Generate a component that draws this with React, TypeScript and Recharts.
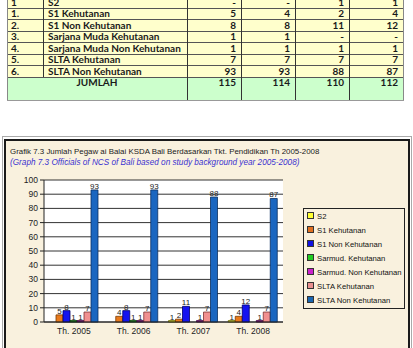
import React from 'react';
import { BarChart, Bar, XAxis, YAxis, CartesianGrid, LabelList } from 'recharts';

// data dari tabel pegawai Balai KSDA Bali
const years = ['Th. 2005', 'Th. 2006', 'Th. 2007', 'Th. 2008'];
const s2 = [0, 0, 1, 1];
const s1Kehutanan = [5, 4, 2, 4];
const s1NonKehutanan = [8, 8, 11, 12];
const sarmudKehutanan = [1, 1, 0, 0];
const sarmudNonKehutanan = [1, 1, 1, 1];
const sltaKehutanan = [7, 7, 7, 7];
const sltaNonKehutanan = [93, 93, 88, 87];
const yTicks = [0, 10, 20, 30, 40, 50, 60, 70, 80, 90, 100];

const tableNo = ['1', '1.', '2.', '3.', '4.', '5.', '6.'];
const tableNames = [
  'S2',
  'S1 Kehutanan',
  'S1 Non Kehutanan',
  'Sarjana Muda Kehutanan',
  'Sarjana Muda Non Kehutanan',
  'SLTA Kehutanan',
  'SLTA Non Kehutanan',
];
const tableValues = [
  ['-', '-', '1', '1'],
  ['5', '4', '2', '4'],
  ['8', '8', '11', '12'],
  ['1', '1', '-', '-'],
  ['1', '1', '1', '1'],
  ['7', '7', '7', '7'],
  ['93', '93', '88', '87'],
];
const totals = ['115', '114', '110', '112'];

const series = [
  { key: 's2', name: 'S2', values: s2, fill: '#e8e820', stroke: '#6b6b00', swatch: '#ffff33' },
  { key: 's1k', name: 'S1 Kehutanan', values: s1Kehutanan, fill: '#e87a1c', stroke: '#7a3a00', swatch: '#e07020' },
  { key: 's1n', name: 'S1 Non Kehutanan', values: s1NonKehutanan, fill: '#1414f0', stroke: '#00006a', swatch: '#1010e0' },
  { key: 'smk', name: 'Sarmud. Kehutanan', values: sarmudKehutanan, fill: '#1a8a1a', stroke: '#004000', swatch: '#22cc22' },
  { key: 'smn', name: 'Sarmud. Non Kehutanan', values: sarmudNonKehutanan, fill: '#8a108a', stroke: '#400040', swatch: '#cc22cc' },
  { key: 'sk', name: 'SLTA Kehutanan', values: sltaKehutanan, fill: '#f09090', stroke: '#7a3030', swatch: '#e89090' },
  { key: 'sn', name: 'SLTA Non Kehutanan', values: sltaNonKehutanan, fill: '#1a66c0', stroke: '#0a2e60', swatch: '#1a66b0' },
];

const chartData = years.map((year, i) => {
  const row: Record<string, string | number> = { year };
  series.forEach((s) => {
    row[s.key] = s.values[i];
  });
  return row;
});

const colX = [7, 43, 187, 241, 295, 349, 403];
const rowTop = -3.5;
const rowH = 11.5;

const tableFont: React.CSSProperties = {
  fontFamily: 'Lato, "Noto Sans", sans-serif',
  fontSize: 10,
  fontWeight: 700,
  color: '#1a1a1a',
};

function DataTable() {
  const bodyBottom = rowTop + rowH * tableNo.length;
  return (
    <div style={{ position: 'absolute', left: 0, top: 0, width: 413, height: 105, ...tableFont }}>
      <div
        style={{
          position: 'absolute',
          left: colX[0],
          top: rowTop,
          width: colX[6] - colX[0],
          height: bodyBottom - rowTop,
          background: '#ffffcc',
        }}
      />
      <div
        style={{
          position: 'absolute',
          left: colX[0],
          top: bodyBottom,
          width: colX[6] - colX[0],
          height: 100 - bodyBottom,
          background: '#ccffcc',
          borderBottom: '1px solid #999',
          borderRight: '1px solid #999',
        }}
      />
      {/* garis horisontal */}
      {tableNo.map((_, i) => (
        <div
          key={'h' + i}
          style={{
            position: 'absolute',
            left: colX[0],
            top: rowTop + rowH * (i + 1) - 0.5,
            width: colX[6] - colX[0],
            height: 1,
            background: '#555',
          }}
        />
      ))}
      {/* garis vertikal */}
      {colX.map((x, i) => (
        <div
          key={'v' + i}
          style={{
            position: 'absolute',
            left: x - 0.5,
            top: rowTop,
            width: 1,
            height: (i === 1 ? bodyBottom : 100) - rowTop,
            background: i === 0 || i === 6 ? '#888' : '#333',
          }}
        />
      ))}
      {tableNo.map((no, i) => (
        <React.Fragment key={'r' + i}>
          <div style={{ position: 'absolute', left: colX[0] + 4, top: rowTop + rowH * i, height: rowH, lineHeight: rowH + 'px' }}>
            {no}
          </div>
          <div style={{ position: 'absolute', left: colX[1] + 5, top: rowTop + rowH * i, height: rowH, lineHeight: rowH + 'px' }}>
            {tableNames[i]}
          </div>
          {tableValues[i].map((v, j) => (
            <div
              key={j}
              style={{
                position: 'absolute',
                left: colX[2 + j],
                width: colX[3 + j] - colX[2 + j] - 5,
                textAlign: 'right',
                top: rowTop + rowH * i,
                height: rowH,
                lineHeight: rowH + 'px',
              }}
            >
              {v}
            </div>
          ))}
        </React.Fragment>
      ))}
      <div style={{ position: 'absolute', left: colX[0], width: colX[2] - colX[0], textAlign: 'center', top: bodyBottom, lineHeight: rowH + 'px' }}>
        JUMLAH
      </div>
      {totals.map((v, j) => (
        <div
          key={'t' + j}
          style={{
            position: 'absolute',
            left: colX[2 + j],
            width: colX[3 + j] - colX[2 + j] - 5,
            textAlign: 'right',
            top: bodyBottom,
            lineHeight: rowH + 'px',
          }}
        >
          {v}
        </div>
      ))}
    </div>
  );
}

function ChartLegend() {
  return (
    <div
      style={{
        position: 'absolute',
        left: 303,
        top: 208,
        width: 100,
        height: 99,
        border: '1px solid #222',
        background: '#f9f1de',
        fontFamily: '"Liberation Sans", Arial, sans-serif',
        fontSize: 7.7,
        color: '#111',
      }}
    >
      {series.map((s, i) => (
        <div key={s.key} style={{ position: 'absolute', left: 3, top: 2 + i * 14, height: 12, lineHeight: '12px', whiteSpace: 'nowrap' }}>
          <span
            style={{
              display: 'inline-block',
              width: 5,
              height: 5,
              background: s.swatch,
              border: '1px solid #333',
              marginRight: 3,
              verticalAlign: 'middle',
              position: 'relative',
              top: -1,
            }}
          />
          {s.name}
        </div>
      ))}
    </div>
  );
}

export default function App() {
  return (
    <div style={{ position: 'absolute', left: 0, top: 0, width: 413, height: 348, overflow: 'hidden', background: '#fff' }}>
      <DataTable />
      <div
        style={{
          position: 'absolute',
          left: 2,
          top: 136,
          width: 408,
          height: 230,
          border: '1px solid #aaa',
        }}
      >
        <div style={{ position: 'absolute', left: 1, top: 2, right: 1, bottom: 0, border: '2px solid #1a1a1a', background: '#f9f1de' }} />
      </div>
      <div
        style={{
          position: 'absolute',
          left: 10,
          top: 146,
          fontFamily: '"Liberation Sans", Arial, sans-serif',
          fontSize: 7.9,
          color: '#1a1a1a',
          whiteSpace: 'nowrap',
          lineHeight: '11px',
        }}
      >
        <div>Grafik 7.3 Jumlah Pegaw ai Balai KSDA Bali Berdasarkan Tkt. Pendidikan Th 2005-2008</div>
        <div style={{ color: '#3a32d0', fontStyle: 'italic', fontSize: 8.2 }}>
          (Graph 7.3 Officials of NCS of Bali based on study background year 2005-2008)
        </div>
      </div>
      <div style={{ position: 'absolute', left: 0, top: 170 }}>
        <BarChart
          width={300}
          height={175}
          data={chartData}
          margin={{ top: 10, right: 17, left: 14, bottom: 5 }}
          barGap={0}
          barSize={7}
          style={{ fontFamily: '"Liberation Sans", Arial, sans-serif' }}
        >
          <CartesianGrid vertical={false} stroke="#333" fill="#ffffff" />
          <XAxis
            dataKey="year"
            height={18}
            tickLine={false}
            tickSize={3}
            tickMargin={3}
            stroke="#222"
            tick={{ fontSize: 8.5, fill: '#222' }}
          />
          <YAxis
            width={30}
            domain={[0, 100]}
            ticks={yTicks}
            interval={0}
            tickSize={4}
            tickMargin={2}
            stroke="#222"
            tick={{ fontSize: 8.5, fill: '#222' }}
          />
          <YAxis
            yAxisId="right"
            orientation="right"
            width={0}
            domain={[0, 100]}
            tick={false}
            tickLine={false}
            stroke="#999"
          />
          {series.map((s) => (
            <Bar key={s.key} dataKey={s.key} name={s.name} fill={s.fill} stroke={s.stroke} strokeWidth={0.8} isAnimationActive={false}>
              <LabelList dataKey={s.key} position="top" offset={1} style={{ fontSize: 8, fill: '#222' }} />
            </Bar>
          ))}
        </BarChart>
      </div>
      <ChartLegend />
    </div>
  );
}
